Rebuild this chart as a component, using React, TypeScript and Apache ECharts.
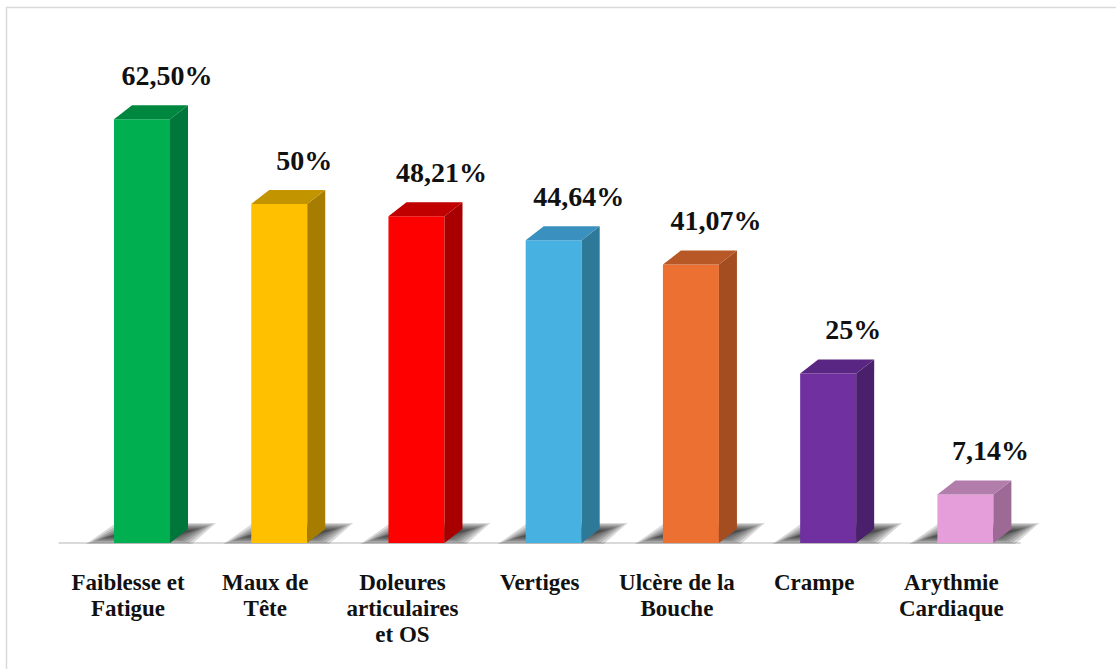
import React, { useEffect, useRef } from "react";
import * as echarts from "echarts";

const categories = [
  "Faiblesse et\nFatigue",
  "Maux de\nTête",
  "Doleures\narticulaires\net OS",
  "Vertiges",
  "Ulcère de la\nBouche",
  "Crampe",
  "Arythmie\nCardiaque",
];
const values = [62.5, 50, 48.21, 44.64, 41.07, 25, 7.14];
const valueLabels = ["62,50%", "50%", "48,21%", "44,64%", "41,07%", "25%", "7,14%"];
const frontColors = ["#00B050", "#FFC000", "#FF0000", "#47B1E1", "#ED7033", "#7030A0", "#E69EDB"];
const sideColors = ["#00773A", "#A67D00", "#A80000", "#2E7898", "#A44D20", "#4A1F6B", "#9C6A95"];
const topColors = ["#00873F", "#C29400", "#C00000", "#3A90BF", "#B85827", "#5A2683", "#B27DAB"];

const FONT = "Liberation Serif";

export default function App() {
  const ref = useRef<HTMLDivElement>(null);
  useEffect(() => {
    if (!ref.current) return;
    const chart = echarts.init(ref.current, null, { renderer: "svg" });
    const data = values.map((v, i) => [i, v]);
    chart.setOption({
      animation: false,
      backgroundColor: "#ffffff",
      grid: { left: 59.4, right: 96, top: 68.4, bottom: 126, containLabel: false },
      graphic: [
        {
          type: "rect",
          shape: { x: 6.5, y: 7.5, width: 1300, height: 900 },
          style: { fill: "none", stroke: "#d9d9d9", lineWidth: 1.5 },
          silent: true,
          z: -10,
        },
      ],
      xAxis: {
        type: "category",
        data: categories,
        offset: 11,
        axisTick: { show: false },
        axisLine: { lineStyle: { color: "#d9d9d9", width: 2 } },
        axisLabel: {
          interval: 0,
          margin: 15,
          color: "#111",
          fontFamily: FONT,
          fontWeight: "bold",
          fontSize: 23,
          lineHeight: 26,
        },
      },
      yAxis: {
        type: "value",
        min: 0,
        max: 70,
        show: false,
        splitLine: { show: false },
      },
      series: [
        {
          type: "custom",
          data,
          encode: { x: 0, y: 1 },
          renderItem: (params: any, api: any) => {
            const i = api.value(0);
            const v = api.value(1);
            const base = api.coord([i, 0]);
            const top = api.coord([i, v]);
            const cx = base[0];
            const by = base[1];
            const ty = top[1];
            const fl = cx - 14;
            const fr = cx + 42;
            const dx = 18;
            const dy = 14;
            const sr = fr + dx;
            const shadows: any[] = [];
            for (let k = 0; k < 8; k++) {
              const h = k * 3.2;
              const v2 = k * 1.1;
              shadows.push({
                type: "polygon",
                shape: {
                  points: [
                    [fl - 28 + h, by + 1 - v2],
                    [sr + 4 - h, by + 1 - v2],
                    [sr + 28 - h, by - 20 + v2],
                    [fl + 2 + h, by - 20 + v2],
                  ],
                },
                style: { fill: "rgba(20,20,20,0.16)" },
              });
            }
            return {
              type: "group",
              children: [
                ...shadows,
                {
                  type: "rect",
                  shape: { x: fl, y: ty, width: fr - fl, height: by - ty },
                  style: { fill: frontColors[i] },
                },
                {
                  type: "polygon",
                  shape: {
                    points: [
                      [fr, by],
                      [sr, by - dy],
                      [sr, ty - dy],
                      [fr, ty],
                    ],
                  },
                  style: { fill: sideColors[i] },
                },
                {
                  type: "polygon",
                  shape: {
                    points: [
                      [fl, ty],
                      [fl + dx, ty - dy],
                      [sr, ty - dy],
                      [fr, ty],
                    ],
                  },
                  style: { fill: topColors[i] },
                },
                {
                  type: "text",
                  x: cx + 39,
                  y: ty - 30,
                  style: {
                    text: valueLabels[i],
                    fill: "#111",
                    fontFamily: FONT,
                    fontWeight: "bold",
                    fontSize: 28,
                    align: "center",
                    verticalAlign: "bottom",
                  },
                },
              ],
            };
          },
        },
      ],
    });
    return () => chart.dispose();
  }, []);
  return (
    <div
      ref={ref}
      style={{ position: "absolute", left: 0, top: 0, width: 1116, height: 669 }}
    />
  );
}
